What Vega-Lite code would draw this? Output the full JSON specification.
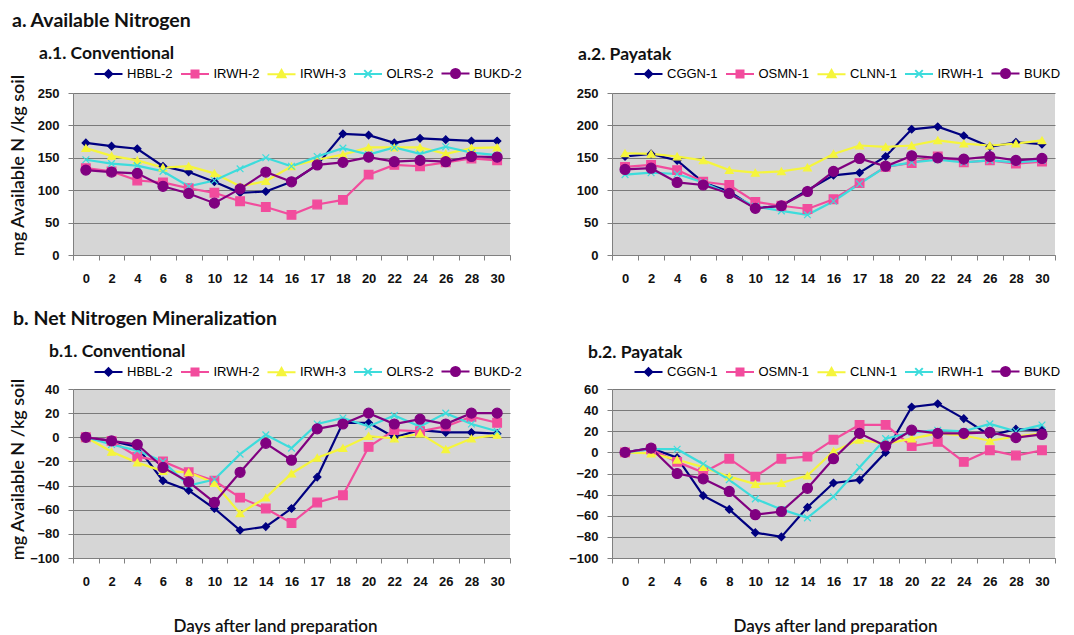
{
  "$schema": "https://vega.github.io/schema/vega-lite/v6.json",
  "padding": {"left": 8, "top": 10, "right": 0, "bottom": 0},
  "background": "white",
  "datasets": {
    "a1": [
      {"d":0,"s":"HBBL-2","v":173},{"d":2,"s":"HBBL-2","v":168},{"d":4,"s":"HBBL-2","v":164},{"d":6,"s":"HBBL-2","v":137},{"d":8,"s":"HBBL-2","v":128},{"d":10,"s":"HBBL-2","v":113},{"d":12,"s":"HBBL-2","v":96},{"d":14,"s":"HBBL-2","v":98},{"d":16,"s":"HBBL-2","v":113},{"d":17,"s":"HBBL-2","v":139},{"d":18,"s":"HBBL-2","v":187},{"d":20,"s":"HBBL-2","v":185},{"d":22,"s":"HBBL-2","v":173},{"d":24,"s":"HBBL-2","v":180},{"d":26,"s":"HBBL-2","v":178},{"d":28,"s":"HBBL-2","v":176},{"d":30,"s":"HBBL-2","v":176},
      {"d":0,"s":"IRWH-2","v":134},{"d":2,"s":"IRWH-2","v":129},{"d":4,"s":"IRWH-2","v":115},{"d":6,"s":"IRWH-2","v":112},{"d":8,"s":"IRWH-2","v":103},{"d":10,"s":"IRWH-2","v":96},{"d":12,"s":"IRWH-2","v":83},{"d":14,"s":"IRWH-2","v":74},{"d":16,"s":"IRWH-2","v":62},{"d":17,"s":"IRWH-2","v":78},{"d":18,"s":"IRWH-2","v":85},{"d":20,"s":"IRWH-2","v":124},{"d":22,"s":"IRWH-2","v":139},{"d":24,"s":"IRWH-2","v":137},{"d":26,"s":"IRWH-2","v":143},{"d":28,"s":"IRWH-2","v":149},{"d":30,"s":"IRWH-2","v":146},
      {"d":0,"s":"IRWH-3","v":165},{"d":2,"s":"IRWH-3","v":153},{"d":4,"s":"IRWH-3","v":146},{"d":6,"s":"IRWH-3","v":135},{"d":8,"s":"IRWH-3","v":137},{"d":10,"s":"IRWH-3","v":126},{"d":12,"s":"IRWH-3","v":106},{"d":14,"s":"IRWH-3","v":114},{"d":16,"s":"IRWH-3","v":137},{"d":17,"s":"IRWH-3","v":147},{"d":18,"s":"IRWH-3","v":155},{"d":20,"s":"IRWH-3","v":166},{"d":22,"s":"IRWH-3","v":166},{"d":24,"s":"IRWH-3","v":166},{"d":26,"s":"IRWH-3","v":156},{"d":28,"s":"IRWH-3","v":165},{"d":30,"s":"IRWH-3","v":166},
      {"d":0,"s":"OLRS-2","v":147},{"d":2,"s":"OLRS-2","v":141},{"d":4,"s":"OLRS-2","v":138},{"d":6,"s":"OLRS-2","v":129},{"d":8,"s":"OLRS-2","v":106},{"d":10,"s":"OLRS-2","v":115},{"d":12,"s":"OLRS-2","v":133},{"d":14,"s":"OLRS-2","v":150},{"d":16,"s":"OLRS-2","v":137},{"d":17,"s":"OLRS-2","v":152},{"d":18,"s":"OLRS-2","v":165},{"d":20,"s":"OLRS-2","v":155},{"d":22,"s":"OLRS-2","v":166},{"d":24,"s":"OLRS-2","v":156},{"d":26,"s":"OLRS-2","v":167},{"d":28,"s":"OLRS-2","v":158},{"d":30,"s":"OLRS-2","v":154},
      {"d":0,"s":"BUKD-2","v":131},{"d":2,"s":"BUKD-2","v":128},{"d":4,"s":"BUKD-2","v":126},{"d":6,"s":"BUKD-2","v":106},{"d":8,"s":"BUKD-2","v":95},{"d":10,"s":"BUKD-2","v":80},{"d":12,"s":"BUKD-2","v":102},{"d":14,"s":"BUKD-2","v":128},{"d":16,"s":"BUKD-2","v":113},{"d":17,"s":"BUKD-2","v":139},{"d":18,"s":"BUKD-2","v":143},{"d":20,"s":"BUKD-2","v":151},{"d":22,"s":"BUKD-2","v":144},{"d":24,"s":"BUKD-2","v":146},{"d":26,"s":"BUKD-2","v":144},{"d":28,"s":"BUKD-2","v":152},{"d":30,"s":"BUKD-2","v":151}
    ],
    "a2": [
      {"d":0,"s":"CGGN-1","v":152},{"d":2,"s":"CGGN-1","v":156},{"d":4,"s":"CGGN-1","v":146},{"d":6,"s":"CGGN-1","v":112},{"d":8,"s":"CGGN-1","v":98},{"d":10,"s":"CGGN-1","v":72},{"d":12,"s":"CGGN-1","v":76},{"d":14,"s":"CGGN-1","v":100},{"d":16,"s":"CGGN-1","v":123},{"d":17,"s":"CGGN-1","v":127},{"d":18,"s":"CGGN-1","v":152},{"d":20,"s":"CGGN-1","v":194},{"d":22,"s":"CGGN-1","v":198},{"d":24,"s":"CGGN-1","v":184},{"d":26,"s":"CGGN-1","v":167},{"d":28,"s":"CGGN-1","v":174},{"d":30,"s":"CGGN-1","v":171},
      {"d":0,"s":"OSMN-1","v":136},{"d":2,"s":"OSMN-1","v":139},{"d":4,"s":"OSMN-1","v":131},{"d":6,"s":"OSMN-1","v":113},{"d":8,"s":"OSMN-1","v":108},{"d":10,"s":"OSMN-1","v":82},{"d":12,"s":"OSMN-1","v":76},{"d":14,"s":"OSMN-1","v":71},{"d":16,"s":"OSMN-1","v":86},{"d":17,"s":"OSMN-1","v":111},{"d":18,"s":"OSMN-1","v":136},{"d":20,"s":"OSMN-1","v":142},{"d":22,"s":"OSMN-1","v":152},{"d":24,"s":"OSMN-1","v":143},{"d":26,"s":"OSMN-1","v":146},{"d":28,"s":"OSMN-1","v":141},{"d":30,"s":"OSMN-1","v":144},
      {"d":0,"s":"CLNN-1","v":157},{"d":2,"s":"CLNN-1","v":156},{"d":4,"s":"CLNN-1","v":152},{"d":6,"s":"CLNN-1","v":146},{"d":8,"s":"CLNN-1","v":131},{"d":10,"s":"CLNN-1","v":127},{"d":12,"s":"CLNN-1","v":129},{"d":14,"s":"CLNN-1","v":135},{"d":16,"s":"CLNN-1","v":156},{"d":17,"s":"CLNN-1","v":169},{"d":18,"s":"CLNN-1","v":167},{"d":20,"s":"CLNN-1","v":169},{"d":22,"s":"CLNN-1","v":177},{"d":24,"s":"CLNN-1","v":172},{"d":26,"s":"CLNN-1","v":169},{"d":28,"s":"CLNN-1","v":172},{"d":30,"s":"CLNN-1","v":177},
      {"d":0,"s":"IRWH-1","v":124},{"d":2,"s":"IRWH-1","v":127},{"d":4,"s":"IRWH-1","v":125},{"d":6,"s":"IRWH-1","v":112},{"d":8,"s":"IRWH-1","v":94},{"d":10,"s":"IRWH-1","v":75},{"d":12,"s":"IRWH-1","v":68},{"d":14,"s":"IRWH-1","v":62},{"d":16,"s":"IRWH-1","v":83},{"d":17,"s":"IRWH-1","v":110},{"d":18,"s":"IRWH-1","v":136},{"d":20,"s":"IRWH-1","v":143},{"d":22,"s":"IRWH-1","v":147},{"d":24,"s":"IRWH-1","v":143},{"d":26,"s":"IRWH-1","v":146},{"d":28,"s":"IRWH-1","v":143},{"d":30,"s":"IRWH-1","v":146},
      {"d":0,"s":"BUKD","v":132},{"d":2,"s":"BUKD","v":134},{"d":4,"s":"BUKD","v":112},{"d":6,"s":"BUKD","v":108},{"d":8,"s":"BUKD","v":95},{"d":10,"s":"BUKD","v":72},{"d":12,"s":"BUKD","v":76},{"d":14,"s":"BUKD","v":98},{"d":16,"s":"BUKD","v":129},{"d":17,"s":"BUKD","v":149},{"d":18,"s":"BUKD","v":137},{"d":20,"s":"BUKD","v":153},{"d":22,"s":"BUKD","v":150},{"d":24,"s":"BUKD","v":148},{"d":26,"s":"BUKD","v":152},{"d":28,"s":"BUKD","v":146},{"d":30,"s":"BUKD","v":149}
    ],
    "b1": [
      {"d":0,"s":"HBBL-2","v":0},{"d":2,"s":"HBBL-2","v":-3},{"d":4,"s":"HBBL-2","v":-8},{"d":6,"s":"HBBL-2","v":-36},{"d":8,"s":"HBBL-2","v":-44},{"d":10,"s":"HBBL-2","v":-59},{"d":12,"s":"HBBL-2","v":-77},{"d":14,"s":"HBBL-2","v":-74},{"d":16,"s":"HBBL-2","v":-59},{"d":17,"s":"HBBL-2","v":-33},{"d":18,"s":"HBBL-2","v":12},{"d":20,"s":"HBBL-2","v":12},{"d":22,"s":"HBBL-2","v":0},{"d":24,"s":"HBBL-2","v":6},{"d":26,"s":"HBBL-2","v":4},{"d":28,"s":"HBBL-2","v":4},{"d":30,"s":"HBBL-2","v":3},
      {"d":0,"s":"IRWH-2","v":0},{"d":2,"s":"IRWH-2","v":-3},{"d":4,"s":"IRWH-2","v":-16},{"d":6,"s":"IRWH-2","v":-20},{"d":8,"s":"IRWH-2","v":-29},{"d":10,"s":"IRWH-2","v":-36},{"d":12,"s":"IRWH-2","v":-50},{"d":14,"s":"IRWH-2","v":-59},{"d":16,"s":"IRWH-2","v":-71},{"d":17,"s":"IRWH-2","v":-54},{"d":18,"s":"IRWH-2","v":-48},{"d":20,"s":"IRWH-2","v":-8},{"d":22,"s":"IRWH-2","v":6},{"d":24,"s":"IRWH-2","v":5},{"d":26,"s":"IRWH-2","v":9},{"d":28,"s":"IRWH-2","v":17},{"d":30,"s":"IRWH-2","v":12},
      {"d":0,"s":"IRWH-3","v":0},{"d":2,"s":"IRWH-3","v":-12},{"d":4,"s":"IRWH-3","v":-21},{"d":6,"s":"IRWH-3","v":-28},{"d":8,"s":"IRWH-3","v":-29},{"d":10,"s":"IRWH-3","v":-38},{"d":12,"s":"IRWH-3","v":-63},{"d":14,"s":"IRWH-3","v":-50},{"d":16,"s":"IRWH-3","v":-30},{"d":17,"s":"IRWH-3","v":-17},{"d":18,"s":"IRWH-3","v":-9},{"d":20,"s":"IRWH-3","v":1},{"d":22,"s":"IRWH-3","v":-1},{"d":24,"s":"IRWH-3","v":3},{"d":26,"s":"IRWH-3","v":-10},{"d":28,"s":"IRWH-3","v":-1},{"d":30,"s":"IRWH-3","v":2},
      {"d":0,"s":"OLRS-2","v":0},{"d":2,"s":"OLRS-2","v":-6},{"d":4,"s":"OLRS-2","v":-11},{"d":6,"s":"OLRS-2","v":-20},{"d":8,"s":"OLRS-2","v":-40},{"d":10,"s":"OLRS-2","v":-35},{"d":12,"s":"OLRS-2","v":-14},{"d":14,"s":"OLRS-2","v":2},{"d":16,"s":"OLRS-2","v":-9},{"d":17,"s":"OLRS-2","v":11},{"d":18,"s":"OLRS-2","v":16},{"d":20,"s":"OLRS-2","v":9},{"d":22,"s":"OLRS-2","v":18},{"d":24,"s":"OLRS-2","v":9},{"d":26,"s":"OLRS-2","v":20},{"d":28,"s":"OLRS-2","v":11},{"d":30,"s":"OLRS-2","v":5},
      {"d":0,"s":"BUKD-2","v":0},{"d":2,"s":"BUKD-2","v":-3},{"d":4,"s":"BUKD-2","v":-6},{"d":6,"s":"BUKD-2","v":-25},{"d":8,"s":"BUKD-2","v":-37},{"d":10,"s":"BUKD-2","v":-54},{"d":12,"s":"BUKD-2","v":-29},{"d":14,"s":"BUKD-2","v":-5},{"d":16,"s":"BUKD-2","v":-19},{"d":17,"s":"BUKD-2","v":7},{"d":18,"s":"BUKD-2","v":11},{"d":20,"s":"BUKD-2","v":20},{"d":22,"s":"BUKD-2","v":11},{"d":24,"s":"BUKD-2","v":15},{"d":26,"s":"BUKD-2","v":11},{"d":28,"s":"BUKD-2","v":20},{"d":30,"s":"BUKD-2","v":20}
    ],
    "b2": [
      {"d":0,"s":"CGGN-1","v":0},{"d":2,"s":"CGGN-1","v":4},{"d":4,"s":"CGGN-1","v":-5},{"d":6,"s":"CGGN-1","v":-41},{"d":8,"s":"CGGN-1","v":-54},{"d":10,"s":"CGGN-1","v":-76},{"d":12,"s":"CGGN-1","v":-80},{"d":14,"s":"CGGN-1","v":-52},{"d":16,"s":"CGGN-1","v":-29},{"d":17,"s":"CGGN-1","v":-26},{"d":18,"s":"CGGN-1","v":0},{"d":20,"s":"CGGN-1","v":43},{"d":22,"s":"CGGN-1","v":46},{"d":24,"s":"CGGN-1","v":32},{"d":26,"s":"CGGN-1","v":16},{"d":28,"s":"CGGN-1","v":22},{"d":30,"s":"CGGN-1","v":21},
      {"d":0,"s":"OSMN-1","v":0},{"d":2,"s":"OSMN-1","v":3},{"d":4,"s":"OSMN-1","v":-9},{"d":6,"s":"OSMN-1","v":-19},{"d":8,"s":"OSMN-1","v":-6},{"d":10,"s":"OSMN-1","v":-23},{"d":12,"s":"OSMN-1","v":-6},{"d":14,"s":"OSMN-1","v":-4},{"d":16,"s":"OSMN-1","v":12},{"d":17,"s":"OSMN-1","v":26},{"d":18,"s":"OSMN-1","v":26},{"d":20,"s":"OSMN-1","v":6},{"d":22,"s":"OSMN-1","v":10},{"d":24,"s":"OSMN-1","v":-9},{"d":26,"s":"OSMN-1","v":2},{"d":28,"s":"OSMN-1","v":-3},{"d":30,"s":"OSMN-1","v":2},
      {"d":0,"s":"CLNN-1","v":0},{"d":2,"s":"CLNN-1","v":-1},{"d":4,"s":"CLNN-1","v":-7},{"d":6,"s":"CLNN-1","v":-14},{"d":8,"s":"CLNN-1","v":-23},{"d":10,"s":"CLNN-1","v":-30},{"d":12,"s":"CLNN-1","v":-29},{"d":14,"s":"CLNN-1","v":-22},{"d":16,"s":"CLNN-1","v":1},{"d":17,"s":"CLNN-1","v":12},{"d":18,"s":"CLNN-1","v":8},{"d":20,"s":"CLNN-1","v":13},{"d":22,"s":"CLNN-1","v":18},{"d":24,"s":"CLNN-1","v":16},{"d":26,"s":"CLNN-1","v":11},{"d":28,"s":"CLNN-1","v":15},{"d":30,"s":"CLNN-1","v":18},
      {"d":0,"s":"IRWH-1","v":0},{"d":2,"s":"IRWH-1","v":3},{"d":4,"s":"IRWH-1","v":3},{"d":6,"s":"IRWH-1","v":-11},{"d":8,"s":"IRWH-1","v":-26},{"d":10,"s":"IRWH-1","v":-44},{"d":12,"s":"IRWH-1","v":-54},{"d":14,"s":"IRWH-1","v":-62},{"d":16,"s":"IRWH-1","v":-42},{"d":17,"s":"IRWH-1","v":-14},{"d":18,"s":"IRWH-1","v":13},{"d":20,"s":"IRWH-1","v":19},{"d":22,"s":"IRWH-1","v":21},{"d":24,"s":"IRWH-1","v":20},{"d":26,"s":"IRWH-1","v":27},{"d":28,"s":"IRWH-1","v":20},{"d":30,"s":"IRWH-1","v":26},
      {"d":0,"s":"BUKD","v":0},{"d":2,"s":"BUKD","v":4},{"d":4,"s":"BUKD","v":-20},{"d":6,"s":"BUKD","v":-25},{"d":8,"s":"BUKD","v":-37},{"d":10,"s":"BUKD","v":-59},{"d":12,"s":"BUKD","v":-56},{"d":14,"s":"BUKD","v":-34},{"d":16,"s":"BUKD","v":-6},{"d":17,"s":"BUKD","v":18},{"d":18,"s":"BUKD","v":6},{"d":20,"s":"BUKD","v":21},{"d":22,"s":"BUKD","v":18},{"d":24,"s":"BUKD","v":18},{"d":26,"s":"BUKD","v":19},{"d":28,"s":"BUKD","v":14},{"d":30,"s":"BUKD","v":17}
    ]
  },
  "columns": 2,
  "bounds": "flush",
  "spacing": {"row": 134, "column": 102},
  "concat": [
    {
      "width": 437, "height": 162,
      "data": {"name": "a1"},
      "title": {"text": "a. Available Nitrogen", "subtitle": "a.1. Conventional", "dx": -34, "offset": 4, "encode": {"title": {"update": {"dx": {"value": -61}}}}},
      "encoding": {
        "x": {"field": "d", "type": "ordinal", "scale": {"type": "band", "paddingInner": 0, "paddingOuter": 0}, "axis": {"title": null}},
        "y": {"field": "v", "type": "quantitative", "scale": {"domain": [0, 250], "nice": false}, "axis": {"values": [0, 50, 100, 150, 200, 250], "title": "mg Available N /kg soil", "titleX": -55, "titleY": 72}}
      },
      "layer": [
        {"mark": {"type": "line", "strokeWidth": 2.2},
         "encoding": {"color": {"field": "s", "type": "nominal", "scale": {"domain": ["HBBL-2","IRWH-2","IRWH-3","OLRS-2","BUKD-2"], "range": ["#000080","#f24c9d","#f5f53c","#3ddcdc","#800080"]},
           "legend": {"orient": "none", "legendX": 29, "legendY": -26,
             "encode": {"symbols": {"update": {
               "shape": {"signal": "['M-2.8,0H2.8M0,-0.75L0.75,0L0,0.75L-0.75,0Z','M-2.8,0H2.8M-0.7,-0.7H0.7V0.7H-0.7Z','M-2.8,0H2.8M0,-0.85L0.8,0.6L-0.8,0.6Z','M-2.8,0H2.8M-0.75,-0.75L0.75,0.75M-0.75,0.75L0.75,-0.75','M-2.8,0H2.8M-0.9,0A0.9,0.9,0,1,0,0.9,0A0.9,0.9,0,1,0,-0.9,0Z'][indexof(['HBBL-2','IRWH-2','IRWH-3','OLRS-2','BUKD-2'], datum.value)]"},
               "fill": {"signal": "['#000080','#f24c9d','#f5f53c','#3ddcdc','#800080'][indexof(['HBBL-2','IRWH-2','IRWH-3','OLRS-2','BUKD-2'], datum.value)]"},
               "stroke": {"signal": "['#000080','#f24c9d','#f5f53c','#3ddcdc','#800080'][indexof(['HBBL-2','IRWH-2','IRWH-3','OLRS-2','BUKD-2'], datum.value)]"},
               "strokeWidth": {"value": 2}, "opacity": {"value": 1}}}}}}}},
        {"mark": {"type": "point", "filled": true, "opacity": 1, "strokeWidth": 1.2,
                  "shape": {"expr": "['diamond','square','triangle-up','M-1,-1L1,1M-1,1L1,-1','circle'][indexof(['HBBL-2','IRWH-2','IRWH-3','OLRS-2','BUKD-2'], datum.s)]"},
                  "size": {"expr": "[55,75,60,45,100][indexof(['HBBL-2','IRWH-2','IRWH-3','OLRS-2','BUKD-2'], datum.s)]"}},
         "encoding": {
           "color": {"field": "s", "type": "nominal", "legend": null},
           "stroke": {"field": "s", "type": "nominal", "scale": {"domain": ["HBBL-2","IRWH-2","IRWH-3","OLRS-2","BUKD-2"], "range": ["#000080","#f24c9d","#f5f53c","#3ddcdc","#800080"]}, "legend": null}}}
      ]
    },
    {
      "width": 443, "height": 162,
      "data": {"name": "a2"},
      "title": {"text": "a.2. Payatak", "dx": -34, "offset": 4, "fontSize": 17.5},
      "encoding": {
        "x": {"field": "d", "type": "ordinal", "scale": {"type": "band", "paddingInner": 0, "paddingOuter": 0}, "axis": {"title": null}},
        "y": {"field": "v", "type": "quantitative", "scale": {"domain": [0, 250], "nice": false}, "axis": {"values": [0, 50, 100, 150, 200, 250], "title": null}}
      },
      "layer": [
        {"mark": {"type": "line", "strokeWidth": 2.2},
         "encoding": {"color": {"field": "s", "type": "nominal", "scale": {"domain": ["CGGN-1","OSMN-1","CLNN-1","IRWH-1","BUKD"], "range": ["#000080","#f24c9d","#f5f53c","#3ddcdc","#800080"]},
           "legend": {"orient": "none", "legendX": 30, "legendY": -26,
             "encode": {"symbols": {"update": {
               "shape": {"signal": "['M-2.8,0H2.8M0,-0.75L0.75,0L0,0.75L-0.75,0Z','M-2.8,0H2.8M-0.7,-0.7H0.7V0.7H-0.7Z','M-2.8,0H2.8M0,-0.85L0.8,0.6L-0.8,0.6Z','M-2.8,0H2.8M-0.75,-0.75L0.75,0.75M-0.75,0.75L0.75,-0.75','M-2.8,0H2.8M-0.9,0A0.9,0.9,0,1,0,0.9,0A0.9,0.9,0,1,0,-0.9,0Z'][indexof(['CGGN-1','OSMN-1','CLNN-1','IRWH-1','BUKD'], datum.value)]"},
               "fill": {"signal": "['#000080','#f24c9d','#f5f53c','#3ddcdc','#800080'][indexof(['CGGN-1','OSMN-1','CLNN-1','IRWH-1','BUKD'], datum.value)]"},
               "stroke": {"signal": "['#000080','#f24c9d','#f5f53c','#3ddcdc','#800080'][indexof(['CGGN-1','OSMN-1','CLNN-1','IRWH-1','BUKD'], datum.value)]"},
               "strokeWidth": {"value": 2}, "opacity": {"value": 1}}}}}}}},
        {"mark": {"type": "point", "filled": true, "opacity": 1, "strokeWidth": 1.2,
                  "shape": {"expr": "['diamond','square','triangle-up','M-1,-1L1,1M-1,1L1,-1','circle'][indexof(['CGGN-1','OSMN-1','CLNN-1','IRWH-1','BUKD'], datum.s)]"},
                  "size": {"expr": "[55,75,60,45,100][indexof(['CGGN-1','OSMN-1','CLNN-1','IRWH-1','BUKD'], datum.s)]"}},
         "encoding": {
           "color": {"field": "s", "type": "nominal", "legend": null},
           "stroke": {"field": "s", "type": "nominal", "scale": {"domain": ["CGGN-1","OSMN-1","CLNN-1","IRWH-1","BUKD"], "range": ["#000080","#f24c9d","#f5f53c","#3ddcdc","#800080"]}, "legend": null}}}
      ]
    },
    {
      "width": 437, "height": 169,
      "data": {"name": "b1"},
      "title": {"text": "b. Net Nitrogen Mineralization", "subtitle": "b.1. Conventional", "dx": -24, "offset": 4, "encode": {"title": {"update": {"dx": {"value": -60}}}}},
      "encoding": {
        "x": {"field": "d", "type": "ordinal", "scale": {"type": "band", "paddingInner": 0, "paddingOuter": 0}, "axis": {"title": "Days after land preparation", "titleX": 202, "titleY": 68, "titleBaseline": "middle", "titleFontSize": 17}},
        "y": {"field": "v", "type": "quantitative", "scale": {"domain": [-100, 40], "nice": false}, "axis": {"values": [-100, -80, -60, -40, -20, 0, 20, 40], "title": "mg Available N /kg soil", "titleX": -55, "titleY": 80}}
      },
      "layer": [
        {"mark": {"type": "line", "strokeWidth": 2.2},
         "encoding": {"color": {"field": "s", "type": "nominal", "scale": {"domain": ["HBBL-2","IRWH-2","IRWH-3","OLRS-2","BUKD-2"], "range": ["#000080","#f24c9d","#f5f53c","#3ddcdc","#800080"]},
           "legend": {"orient": "none", "legendX": 29, "legendY": -24,
             "encode": {"symbols": {"update": {
               "shape": {"signal": "['M-2.8,0H2.8M0,-0.75L0.75,0L0,0.75L-0.75,0Z','M-2.8,0H2.8M-0.7,-0.7H0.7V0.7H-0.7Z','M-2.8,0H2.8M0,-0.85L0.8,0.6L-0.8,0.6Z','M-2.8,0H2.8M-0.75,-0.75L0.75,0.75M-0.75,0.75L0.75,-0.75','M-2.8,0H2.8M-0.9,0A0.9,0.9,0,1,0,0.9,0A0.9,0.9,0,1,0,-0.9,0Z'][indexof(['HBBL-2','IRWH-2','IRWH-3','OLRS-2','BUKD-2'], datum.value)]"},
               "fill": {"signal": "['#000080','#f24c9d','#f5f53c','#3ddcdc','#800080'][indexof(['HBBL-2','IRWH-2','IRWH-3','OLRS-2','BUKD-2'], datum.value)]"},
               "stroke": {"signal": "['#000080','#f24c9d','#f5f53c','#3ddcdc','#800080'][indexof(['HBBL-2','IRWH-2','IRWH-3','OLRS-2','BUKD-2'], datum.value)]"},
               "strokeWidth": {"value": 2}, "opacity": {"value": 1}}}}}}}},
        {"mark": {"type": "point", "filled": true, "opacity": 1, "strokeWidth": 1.2,
                  "shape": {"expr": "['diamond','square','triangle-up','M-1,-1L1,1M-1,1L1,-1','circle'][indexof(['HBBL-2','IRWH-2','IRWH-3','OLRS-2','BUKD-2'], datum.s)]"},
                  "size": {"expr": "[55,75,60,45,100][indexof(['HBBL-2','IRWH-2','IRWH-3','OLRS-2','BUKD-2'], datum.s)]"}},
         "encoding": {
           "color": {"field": "s", "type": "nominal", "legend": null},
           "stroke": {"field": "s", "type": "nominal", "scale": {"domain": ["HBBL-2","IRWH-2","IRWH-3","OLRS-2","BUKD-2"], "range": ["#000080","#f24c9d","#f5f53c","#3ddcdc","#800080"]}, "legend": null}}}
      ]
    },
    {
      "width": 443, "height": 169,
      "data": {"name": "b2"},
      "title": {"text": "b.2. Payatak", "dx": -24, "offset": 4, "fontSize": 17.5},
      "encoding": {
        "x": {"field": "d", "type": "ordinal", "scale": {"type": "band", "paddingInner": 0, "paddingOuter": 0}, "axis": {"title": "Days after land preparation", "titleX": 223, "titleY": 68, "titleBaseline": "middle", "titleFontSize": 17}},
        "y": {"field": "v", "type": "quantitative", "scale": {"domain": [-100, 60], "nice": false}, "axis": {"values": [-100, -80, -60, -40, -20, 0, 20, 40, 60], "title": null}}
      },
      "layer": [
        {"mark": {"type": "line", "strokeWidth": 2.2},
         "encoding": {"color": {"field": "s", "type": "nominal", "scale": {"domain": ["CGGN-1","OSMN-1","CLNN-1","IRWH-1","BUKD"], "range": ["#000080","#f24c9d","#f5f53c","#3ddcdc","#800080"]},
           "legend": {"orient": "none", "legendX": 30, "legendY": -24,
             "encode": {"symbols": {"update": {
               "shape": {"signal": "['M-2.8,0H2.8M0,-0.75L0.75,0L0,0.75L-0.75,0Z','M-2.8,0H2.8M-0.7,-0.7H0.7V0.7H-0.7Z','M-2.8,0H2.8M0,-0.85L0.8,0.6L-0.8,0.6Z','M-2.8,0H2.8M-0.75,-0.75L0.75,0.75M-0.75,0.75L0.75,-0.75','M-2.8,0H2.8M-0.9,0A0.9,0.9,0,1,0,0.9,0A0.9,0.9,0,1,0,-0.9,0Z'][indexof(['CGGN-1','OSMN-1','CLNN-1','IRWH-1','BUKD'], datum.value)]"},
               "fill": {"signal": "['#000080','#f24c9d','#f5f53c','#3ddcdc','#800080'][indexof(['CGGN-1','OSMN-1','CLNN-1','IRWH-1','BUKD'], datum.value)]"},
               "stroke": {"signal": "['#000080','#f24c9d','#f5f53c','#3ddcdc','#800080'][indexof(['CGGN-1','OSMN-1','CLNN-1','IRWH-1','BUKD'], datum.value)]"},
               "strokeWidth": {"value": 2}, "opacity": {"value": 1}}}}}}}},
        {"mark": {"type": "point", "filled": true, "opacity": 1, "strokeWidth": 1.2,
                  "shape": {"expr": "['diamond','square','triangle-up','M-1,-1L1,1M-1,1L1,-1','circle'][indexof(['CGGN-1','OSMN-1','CLNN-1','IRWH-1','BUKD'], datum.s)]"},
                  "size": {"expr": "[55,75,60,45,100][indexof(['CGGN-1','OSMN-1','CLNN-1','IRWH-1','BUKD'], datum.s)]"}},
         "encoding": {
           "color": {"field": "s", "type": "nominal", "legend": null},
           "stroke": {"field": "s", "type": "nominal", "scale": {"domain": ["CGGN-1","OSMN-1","CLNN-1","IRWH-1","BUKD"], "range": ["#000080","#f24c9d","#f5f53c","#3ddcdc","#800080"]}, "legend": null}}}
      ]
    }
  ],
  "resolve": {"scale": {"color": "independent", "stroke": "independent", "y": "independent", "x": "independent"}, "legend": {"color": "independent"}},
  "config": {
    "font": "Liberation Sans",
    "view": {"fill": "#d6d6d6", "stroke": null},
    "axis": {"domainColor": "#808080", "tickColor": "#808080", "tickSize": 5, "labelFont": "Liberation Sans", "labelFontSize": 13, "labelFontWeight": "bold", "labelColor": "#111111", "titleFont": "Lato", "titleFontSize": 18, "titleFontWeight": 600, "titleColor": "#111111"},
    "axisX": {"labelAngle": 0, "tickBand": "extent", "labelPadding": 12, "grid": false},
    "axisY": {"grid": true, "gridColor": "#7a7a7a", "gridOpacity": 1, "labelPadding": 9, "titleBaseline": "middle"},
    "title": {"font": "Lato", "fontSize": 19.5, "fontWeight": "bold", "anchor": "start", "frame": "group", "color": "#111111", "subtitleFont": "Lato", "subtitleFontSize": 17.5, "subtitleFontWeight": "bold", "subtitleColor": "#111111", "subtitlePadding": 13.5},
    "legend": {"direction": "horizontal", "title": null, "labelFont": "Liberation Sans", "labelFontSize": 13, "labelColor": "#000000", "labelOffset": 12, "columnPadding": 3.5, "symbolSize": 100, "padding": 0}
  }
}
